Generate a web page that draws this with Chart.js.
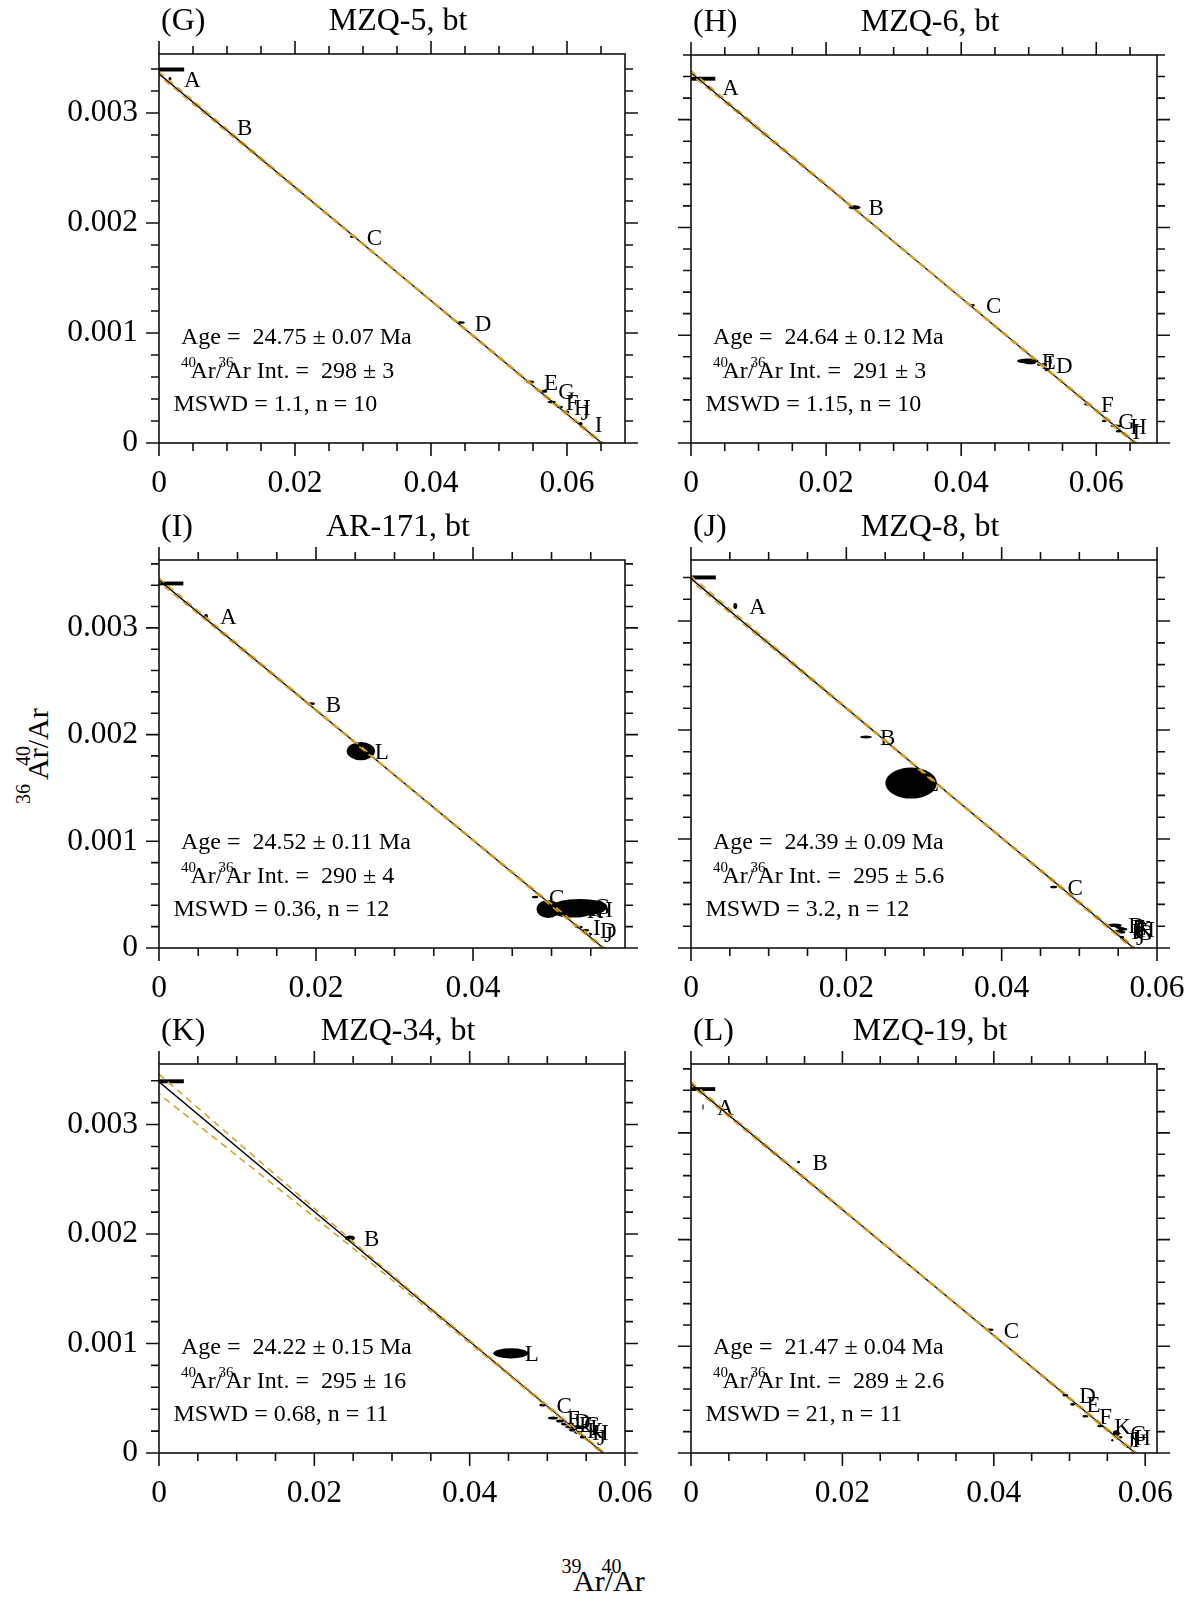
<!DOCTYPE html>
<html>
<head>
<meta charset="utf-8">
<title>Inverse isochrons</title>
<script src="https://cdn.jsdelivr.net/npm/chart.js@4.4.1/dist/chart.umd.min.js"></script>
<style>
  html, body { margin: 0; padding: 0; background: #fff; }
  #page { position: relative; width: 1204px; height: 1598px; overflow: hidden; background: #fff; }
  #page canvas { position: absolute; }
  .ttl { position: absolute; left: 0; top: 0; font-family: 'Liberation Serif', 'Times New Roman', serif; color: #000; line-height: 1; }
  .ttl span { position: absolute; white-space: pre; }
</style>
</head>
<body>
<div id="page">
  <div class="ttl" id="xTitle"></div>
  <div class="ttl" id="yTitle"></div>
</div>
<script>
// results per sample (panels G..L)
const panelTags = ['(G)', '(H)', '(I)', '(J)', '(K)', '(L)'];
const sampleNames = ['MZQ-5, bt', 'MZQ-6, bt', 'AR-171, bt', 'MZQ-8, bt', 'MZQ-34, bt', 'MZQ-19, bt'];
const ageTexts = ['24.75 ± 0.07', '24.64 ± 0.12', '24.52 ± 0.11', '24.39 ± 0.09', '24.22 ± 0.15', '21.47 ± 0.04'];
const trappedRatios = [298, 291, 290, 295, 295, 289];
const trappedErrors = ['3', '3', '4', '5.6', '16', '2.6'];
const mswdTexts = ['1.1', '1.15', '0.36', '3.2', '0.68', '21'];
const stepCounts = [10, 10, 12, 12, 11, 11];
// 39Ar/40Ar where each isochron reaches zero
const xIntercepts = [0.0651, 0.06577, 0.0566, 0.05699, 0.0572, 0.05869];

// axis ranges and tick labels
const xMaxes = [0.06853, 0.06899, 0.05936, 0.06, 0.06, 0.06156];
const yMaxes = [0.003536, 0.0036, 0.003636, 0.00356, 0.003553, 0.003646];
const xTickLabels = ['0', '0.02', '0.04', '0.06'];
const yTickLabels = ['0', '0.001', '0.002', '0.003'];

// atmospheric reference bar on the y axis
const airY = [0.003395, 0.00338, 0.003416, 0.0034, 0.003395, 0.003411];
const airHalfX = [0.0037, 0.0036, 0.0031, 0.0032, 0.0032, 0.0032];
const airHalfY = 0.000018;

// heating steps: label, 39Ar/40Ar, 36Ar/40Ar, ellipse half-axes
const stepsG = ['A', 'B', 'C', 'D', 'E', 'G', 'F', 'H', 'J', 'I'];
const xG = [0.00162, 0.0094, 0.02848, 0.04437, 0.05456, 0.05666, 0.05775, 0.05897, 0.05996, 0.06201];
const yG = [0.00331, 0.00287, 0.001875, 0.001095, 0.000555, 0.00047, 0.000373, 0.000327, 0.000282, 0.000176];
const sxG = [0.00022, 0.0004, 0.00044, 0.0006, 0.0006, 0.00044, 0.0006, 0.00044, 0.0004, 0.0003];
const syG = [0.000016, 0.000012, 0.000012, 0.000012, 0.000012, 0.000014, 0.000012, 0.000012, 0.000014, 0.000014];

const stepsH = ['A', 'B', 'C', 'E', 'J', 'D', 'F', 'G', 'H', 'I'];
const xH = [0.00256, 0.02422, 0.0416, 0.04986, 0.05023, 0.05196, 0.05862, 0.06118, 0.06296, 0.0633];
const yH = [0.0033, 0.002186, 0.001277, 0.00076, 0.000744, 0.000728, 0.000359, 0.000204, 0.000158, 0.000109];
const sxH = [0.0003, 0.00089, 0.00044, 0.0016, 0.0008, 0.00074, 0.00044, 0.00037, 0.00086, 0.00044];
const syH = [0.000014, 0.000019, 0.000012, 0.000023, 0.000014, 0.000014, 0.000012, 0.000012, 0.000014, 0.000012];

const stepsI = ['A', 'B', 'L', 'C', 'E', 'K', 'F', 'H', 'G', 'I', 'D', 'J'];
const xI = [0.00599, 0.01945, 0.02571, 0.0479, 0.04959, 0.0527, 0.0531, 0.0539, 0.0536, 0.0535, 0.05439, 0.05491];
const yI = [0.00311, 0.00229, 0.001845, 0.000478, 0.000366, 0.000355, 0.000375, 0.00037, 0.00039, 0.000197, 0.000166, 0.000128];
const sxI = [0.00025, 0.0004, 0.00181, 0.0004, 0.00149, 0.0028, 0.0033, 0.003, 0.0035, 0.0005, 0.0004, 0.00025];
const syI = [0.000019, 0.000012, 0.000086, 0.000012, 0.000084, 0.00007, 0.000072, 0.000065, 0.00007, 0.000012, 0.000012, 0.000014];

const stepsJ = ['A', 'B', 'L', 'C', 'D', 'I', 'E', 'K', 'F', 'H', 'G', 'J'];
const xJ = [0.0057, 0.02253, 0.02834, 0.04668, 0.0545, 0.05489, 0.05502, 0.0554, 0.05527, 0.05579, 0.05553, 0.05549];
const yJ = [0.003139, 0.001936, 0.001513, 0.00056, 0.000208, 0.000153, 0.00019, 0.00018, 0.000163, 0.000172, 0.000144, 0.000098];
const sxJ = [0.00026, 0.00077, 0.00332, 0.00045, 0.00097, 0.0004, 0.0004, 0.0004, 0.0004, 0.0004, 0.0004, 0.0003];
const syJ = [0.0000275, 0.000014, 0.000142, 0.000012, 0.000016, 0.000012, 0.000012, 0.000012, 0.000012, 0.000012, 0.000012, 0.000014];

const stepsK = ['B', 'L', 'C', 'F', 'D', 'E', 'G', 'I', 'K', 'H', 'J'];
const xK = [0.02459, 0.0453, 0.04937, 0.05073, 0.05163, 0.05227, 0.05292, 0.05369, 0.0533, 0.05395, 0.05459];
const yK = [0.001963, 0.00091, 0.000438, 0.00032, 0.000292, 0.000265, 0.000265, 0.000237, 0.00021, 0.00019, 0.000146];
const sxK = [0.00064, 0.00225, 0.0004, 0.00064, 0.0005, 0.0005, 0.0005, 0.0014, 0.0005, 0.0005, 0.0004];
const syK = [0.000023, 0.000046, 0.000014, 0.000014, 0.000014, 0.000014, 0.000014, 0.000016, 0.000014, 0.000014, 0.000014];

const stepsL = ['A', 'B', 'C', 'D', 'E', 'F', 'K', 'G', 'J', 'I', 'H'];
const xL = [0.00159, 0.01421, 0.03945, 0.04945, 0.05041, 0.05209, 0.05407, 0.05618, 0.05566, 0.05645, 0.05672];
const yL = [0.003243, 0.002727, 0.001156, 0.000541, 0.000456, 0.000344, 0.000253, 0.000185, 0.000119, 0.000136, 0.000148];
const sxL = [0.00008, 0.0002, 0.00053, 0.0004, 0.00033, 0.0004, 0.0004, 0.00046, 0.00015, 0.00015, 0.00026];
const syL = [0.000028, 0.000012, 0.000012, 0.000012, 0.000012, 0.000012, 0.000012, 0.000028, 0.000012, 0.000012, 0.000012];

// error envelope: distance above / below the isochron at a few 39Ar/40Ar positions
const bandXG = [0, 0.033, 0.0655], bandUpG = [0.000018, 0.000006, 0.000013], bandLoG = [0.000018, 0.000006, 0.000013];
const bandXH = [0, 0.033, 0.0662], bandUpH = [0.000018, 0.000006, 0.000013], bandLoH = [0.000018, 0.000006, 0.000013];
const bandXI = [0, 0.028, 0.057], bandUpI = [0.000018, 0.000006, 0.000013], bandLoI = [0.000018, 0.000006, 0.000013];
const bandXJ = [0, 0.028, 0.0574], bandUpJ = [0.000022, 0.000007, 0.000015], bandLoJ = [0.000022, 0.000007, 0.000015];
const bandXK = [0, 0.01, 0.02, 0.03, 0.04, 0.05, 0.0576];
const bandUpK = [0.00007, 0.00005, 0.00003, 0.000015, 0.00001, 0.00001, 0.000012];
const bandLoK = [0.00011, 0.00008, 0.00005, 0.00003, 0.000015, 0.00001, 0.000012];
const bandXL = [0, 0.03, 0.0591], bandUpL = [0.000018, 0.000006, 0.000013], bandLoL = [0.000018, 0.000006, 0.000013];

const stepSets = [
  { names: stepsG, x: xG, y: yG, sx: sxG, sy: syG, bx: bandXG, up: bandUpG, lo: bandLoG },
  { names: stepsH, x: xH, y: yH, sx: sxH, sy: syH, bx: bandXH, up: bandUpH, lo: bandLoH },
  { names: stepsI, x: xI, y: yI, sx: sxI, sy: syI, bx: bandXI, up: bandUpI, lo: bandLoI },
  { names: stepsJ, x: xJ, y: yJ, sx: sxJ, sy: syJ, bx: bandXJ, up: bandUpJ, lo: bandLoJ },
  { names: stepsK, x: xK, y: yK, sx: sxK, sy: syK, bx: bandXK, up: bandUpK, lo: bandLoK },
  { names: stepsL, x: xL, y: yL, sx: sxL, sy: syL, bx: bandXL, up: bandUpL, lo: bandLoL }
];

// plot frames on the page (left, top, right, bottom)
const frames = [
  [159, 54, 625, 443], [691, 55, 1157, 443],
  [159, 560, 625, 948], [691, 560, 1157, 948],
  [159, 1064, 625, 1453], [691, 1064, 1157, 1453]
];

const SERIF = '"Liberation Serif", "Times New Roman", serif';
const GOLD = '#d6a22a';
const PAD = { l: 150, t: 60, r: 50, b: 70 };

function isochronY(i, x) {
  return (1 / trappedRatios[i]) * (1 - x / xIntercepts[i]);
}

// step ellipses, labels and the air bar, under the lines
const stepMarks = {
  id: 'stepMarks',
  beforeDatasetsDraw(chart, args, opts) {
    const i = opts.panel;
    const s = stepSets[i];
    const { ctx, chartArea: a } = chart;
    const xs = chart.scales.x, ys = chart.scales.y;
    ctx.save();
    ctx.fillStyle = '#000';
    ctx.font = '23px ' + SERIF;
    ctx.textAlign = 'left';
    ctx.textBaseline = 'middle';
    s.names.forEach((n, k) => {
      ctx.fillText(n, xs.getPixelForValue(s.x[k]) + 14, ys.getPixelForValue(s.y[k]) + 2);
    });
    ctx.beginPath();
    ctx.rect(a.left, a.top, a.right - a.left, a.bottom - a.top);
    ctx.clip();
    const bx0 = xs.getPixelForValue(-airHalfX[i]), bx1 = xs.getPixelForValue(airHalfX[i]);
    const by0 = ys.getPixelForValue(airY[i] + airHalfY), by1 = ys.getPixelForValue(airY[i] - airHalfY);
    ctx.fillRect(bx0, by0, bx1 - bx0, by1 - by0);
    s.names.forEach((n, k) => {
      const px = xs.getPixelForValue(s.x[k]);
      const py = ys.getPixelForValue(s.y[k]);
      const rx = Math.abs(xs.getPixelForValue(s.x[k] + s.sx[k]) - px);
      const ry = Math.abs(ys.getPixelForValue(s.y[k] + s.sy[k]) - py);
      ctx.beginPath();
      ctx.ellipse(px, py, rx, ry, 0, 0, Math.PI * 2);
      ctx.fill();
    });
    ctx.restore();
  }
};

// box frame with outward major / minor ticks on all four sides
const frameTicks = {
  id: 'frameTicks',
  afterDraw(chart) {
    const { ctx, chartArea: a } = chart;
    const xs = chart.scales.x, ys = chart.scales.y;
    ctx.save();
    ctx.strokeStyle = '#111';
    ctx.lineWidth = 1.6;
    ctx.beginPath();
    for (let k = 0; k * 0.005 <= xs.max + 1e-9; k++) {
      const p = xs.getPixelForValue(k * 0.005);
      const len = k % 4 === 0 ? 13 : 8;
      ctx.moveTo(p, a.bottom); ctx.lineTo(p, a.bottom + len);
      ctx.moveTo(p, a.top); ctx.lineTo(p, a.top - len);
    }
    for (let k = 0; k * 0.0002 <= ys.max + 1e-12; k++) {
      const p = ys.getPixelForValue(k * 0.0002);
      const len = k % 5 === 0 ? 13 : 8;
      ctx.moveTo(a.left, p); ctx.lineTo(a.left - len, p);
      ctx.moveTo(a.right, p); ctx.lineTo(a.right + len, p);
    }
    ctx.stroke();
    ctx.strokeRect(a.left, a.top, a.right - a.left, a.bottom - a.top);
    ctx.restore();
  }
};

// panel letter, sample name and the isochron results block
const panelText = {
  id: 'panelText',
  afterDraw(chart, args, opts) {
    const i = opts.panel;
    const { ctx, chartArea: a } = chart;
    ctx.save();
    ctx.fillStyle = '#000';
    ctx.textBaseline = 'alphabetic';
    ctx.font = '32px ' + SERIF;
    ctx.textAlign = 'left';
    ctx.fillText(panelTags[i], a.left + 2, a.top - 24);
    ctx.textAlign = 'center';
    ctx.fillText(sampleNames[i], (a.left + a.right) / 2 + 6, a.top - 24);

    ctx.textAlign = 'left';
    const body = '24px ' + SERIF, sup = '15px ' + SERIF;
    const x1 = a.left + 22;
    ctx.font = body;
    ctx.fillText('Age =  ' + ageTexts[i] + ' Ma', x1, a.bottom - 99);
    let cx = x1;
    const b2 = a.bottom - 65.5;
    ctx.font = sup;
    ctx.fillText('40', cx, b2 - 11);
    cx += 9.5;
    ctx.font = body;
    ctx.fillText('Ar/', cx, b2);
    cx += ctx.measureText('Ar/').width;
    ctx.font = sup;
    ctx.fillText('36', cx - 4, b2 - 11);
    ctx.font = body;
    ctx.fillText('Ar Int. =  ' + trappedRatios[i] + ' ± ' + trappedErrors[i], cx + 3, b2);
    ctx.fillText('MSWD = ' + mswdTexts[i] + ', n = ' + stepCounts[i], a.left + 14.5, a.bottom - 32);
    ctx.restore();
  }
};

const page = document.getElementById('page');

function makePanel(i) {
  const [l, t, r, b] = frames[i];
  const s = stepSets[i];
  const canvas = document.createElement('canvas');
  canvas.width = r - l + PAD.l + PAD.r;
  canvas.height = b - t + PAD.t + PAD.b;
  canvas.style.left = (l - PAD.l) + 'px';
  canvas.style.top = (t - PAD.t) + 'px';
  page.appendChild(canvas);

  const upper = s.bx.map((x, k) => ({ x, y: isochronY(i, x) + s.up[k] }));
  const lower = s.bx.map((x, k) => ({ x, y: isochronY(i, x) - s.lo[k] }));
  const leftColumn = i % 2 === 0;

  new Chart(canvas, {
    type: 'scatter',
    data: {
      datasets: [
        { type: 'line', label: 'upper', data: upper, borderColor: GOLD, borderWidth: 1.6,
          borderDash: [7, 5], pointRadius: 0, tension: 0.3 },
        { type: 'line', label: 'lower', data: lower, borderColor: GOLD, borderWidth: 1.6,
          borderDash: [7, 5], borderDashOffset: 5, pointRadius: 0, tension: 0.3 },
        { type: 'line', label: 'isochron',
          data: [{ x: 0, y: 1 / trappedRatios[i] }, { x: xIntercepts[i], y: 0 }],
          borderColor: '#000', borderWidth: 1.3, pointRadius: 0 },
        { label: 'steps', data: s.x.map((x, k) => ({ x, y: s.y[k] })), pointRadius: 0 }
      ]
    },
    options: {
      responsive: false,
      animation: false,
      devicePixelRatio: 1,
      events: [],
      layout: { padding: { left: 0, top: PAD.t, right: PAD.r, bottom: 0 } },
      scales: {
        x: {
          type: 'linear', min: 0, max: xMaxes[i],
          grid: { display: false, drawTicks: false }, border: { display: false },
          afterFit: (sc) => { sc.height = PAD.b; },
          ticks: {
            stepSize: 0.02, includeBounds: false, autoSkip: false, maxRotation: 0, minRotation: 0,
            padding: 22, color: '#000', font: { family: SERIF, size: 31.5 },
            callback: (v) => xTickLabels[Math.round(v / 0.02)]
          }
        },
        y: {
          type: 'linear', min: 0, max: yMaxes[i],
          grid: { display: false, drawTicks: false }, border: { display: false },
          afterFit: (sc) => { sc.width = PAD.l; },
          ticks: {
            display: leftColumn,
            stepSize: 0.001, includeBounds: false, padding: 21, color: '#000',
            font: { family: SERIF, size: 31.5 },
            callback: (v) => yTickLabels[Math.round(v / 0.001)]
          }
        }
      },
      plugins: {
        legend: { display: false },
        tooltip: { enabled: false },
        stepMarks: { panel: i },
        panelText: { panel: i }
      }
    },
    plugins: [stepMarks, frameTicks, panelText]
  });
}

for (let i = 0; i < 6; i++) makePanel(i);

// shared axis titles with the isotope masses set as superscripts
function isotopeTitle(el, lead, trail, leadDx, trailDx) {
  const parts = [
    { text: lead, size: 20, dx: leadDx, base: -18.7 },
    { text: 'Ar/Ar', size: 30, dx: 0, base: 0 },
    { text: trail, size: 20, dx: trailDx, base: -18.7 }
  ];
  parts.forEach((p) => {
    const sp = document.createElement('span');
    sp.textContent = p.text;
    sp.style.fontSize = p.size + 'px';
    sp.style.left = p.dx + 'px';
    sp.style.top = (p.base - 0.8375 * p.size) + 'px';
    el.appendChild(sp);
  });
}

const xTitle = document.getElementById('xTitle');
xTitle.style.transform = 'translate(573px, 1591px)';
isotopeTitle(xTitle, '39', '40', -11.6, 28.4);

const yTitle = document.getElementById('yTitle');
yTitle.style.transform = 'translate(48px, 780px) rotate(-90deg)';
isotopeTitle(yTitle, '36', '40', -24, 14);
</script>
</body>
</html>
